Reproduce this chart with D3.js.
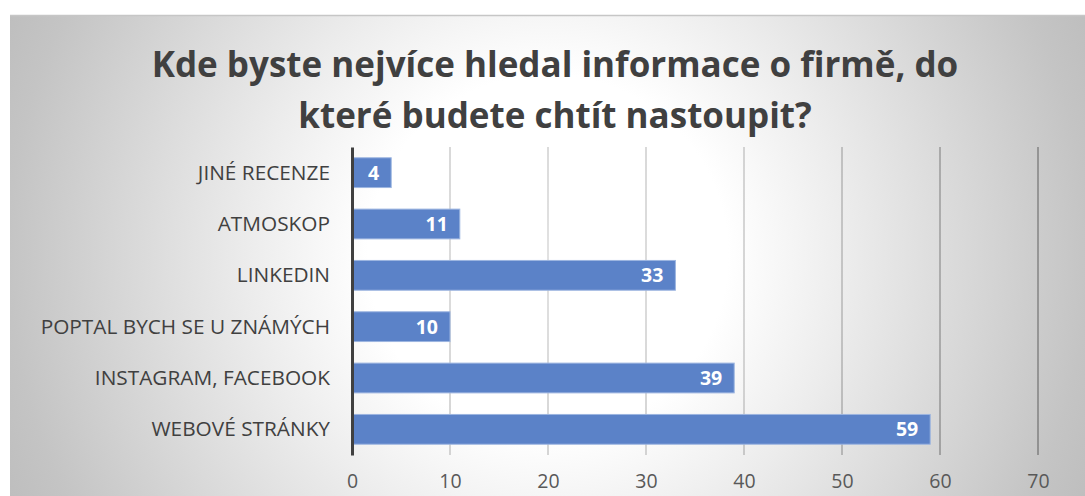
<!DOCTYPE html>
<html>
<head>
<meta charset="utf-8">
<script src="https://cdn.jsdelivr.net/npm/d3@7"></script>
<style>
  body { margin: 0; background: #fff; }
  svg { display: block; }
</style>
</head>
<body>
<svg id="chart"></svg>
<script>
// data
const categories = ['JINÉ RECENZE', 'ATMOSKOP', 'LINKEDIN', 'POPTAL BYCH SE U ZNÁMÝCH', 'INSTAGRAM, FACEBOOK', 'WEBOVÉ STRÁNKY'];
const answers = [4, 11, 33, 10, 39, 59];
const xTicks = [0, 10, 20, 30, 40, 50, 60, 70];
const titleLines = ['Kde byste nejvíce hledal informace o firmě, do', 'které budete chtít nastoupit?'];

const width = 1085, height = 496;
const margin = {top: 147, right: 47, bottom: 41, left: 352};
const fontFam = '"Open Sans", Lato, sans-serif';

const svg = d3.select('#chart')
  .attr('width', width)
  .attr('height', height);

const defs = svg.append('defs');

const bg = defs.append('radialGradient')
  .attr('id', 'bg')
  .attr('gradientUnits', 'userSpaceOnUse')
  .attr('cx', 548).attr('cy', 255).attr('r', 600);
[[0, '#ffffff'], [0.3, '#ffffff'], [0.5, '#ececec'], [0.9, '#c4c4c4'], [1, '#bdbdbd']]
  .forEach(s => bg.append('stop').attr('offset', s[0]).attr('stop-color', s[1]));

const gridGrad = defs.append('radialGradient')
  .attr('id', 'gridGrad')
  .attr('gradientUnits', 'userSpaceOnUse')
  .attr('cx', 548).attr('cy', 255).attr('r', 600);
[[0, '#dadada'], [0.4, '#c8c8c8'], [0.8, '#8a8a8a'], [1, '#7a7a7a']]
  .forEach(s => gridGrad.append('stop').attr('offset', s[0]).attr('stop-color', s[1]));

// chart area
svg.append('rect')
  .attr('x', 10).attr('y', 15)
  .attr('width', width).attr('height', height)
  .attr('fill', 'url(#bg)');
svg.append('line')
  .attr('x1', 10).attr('x2', width)
  .attr('y1', 15.5).attr('y2', 15.5)
  .attr('stroke', '#c6c6c6').attr('stroke-width', 1.5);

const x = d3.scaleLinear()
  .domain([0, 70])
  .range([margin.left, width - margin.right]);

const y = d3.scaleBand()
  .domain(categories)
  .range([margin.top, height - margin.bottom])
  .paddingInner(0.42)
  .paddingOuter(0.21);

// title
svg.append('g')
  .selectAll('text')
  .data(titleLines)
  .join('text')
  .attr('x', 555)
  .attr('y', (d, i) => 77 + i * 51)
  .attr('text-anchor', 'middle')
  .attr('font-family', fontFam)
  .attr('font-weight', 'bold')
  .attr('font-size', 35)
  .attr('fill', '#404040')
  .text(d => d);

// gridlines
svg.append('g')
  .selectAll('line')
  .data(xTicks.slice(1))
  .join('line')
  .attr('x1', d => x(d)).attr('x2', d => x(d))
  .attr('y1', margin.top).attr('y2', height - margin.bottom)
  .attr('stroke', 'url(#gridGrad)')
  .attr('stroke-width', 1.6);

// bars
svg.append('g')
  .selectAll('rect')
  .data(answers)
  .join('rect')
  .attr('x', x(0))
  .attr('y', (d, i) => y(categories[i]))
  .attr('width', d => x(d) - x(0))
  .attr('height', y.bandwidth())
  .attr('fill', '#5b82c8')
  .attr('stroke', '#9cb5e0')
  .attr('stroke-width', 1);

// value labels
svg.append('g')
  .selectAll('text')
  .data(answers)
  .join('text')
  .attr('x', d => x(d) - 12)
  .attr('y', (d, i) => y(categories[i]) + y.bandwidth() / 2)
  .attr('dy', '0.36em')
  .attr('text-anchor', 'end')
  .attr('font-family', fontFam)
  .attr('font-weight', 'bold')
  .attr('font-size', 19.5)
  .attr('fill', '#ffffff')
  .text(d => d);

// y axis
const yAxis = svg.append('g')
  .attr('transform', `translate(${x(0)},0)`)
  .call(d3.axisLeft(y).tickSize(0).tickPadding(22));
yAxis.select('.domain')
  .attr('stroke', '#404040')
  .attr('stroke-width', 3);
yAxis.selectAll('text')
  .attr('font-family', fontFam)
  .attr('font-size', 20.8)
  .attr('dy', '0.34em')
  .attr('fill', '#404040');

// x axis
const xAxis = svg.append('g')
  .attr('transform', `translate(0,${height - margin.bottom})`)
  .call(d3.axisBottom(x).tickValues(xTicks).tickSize(0).tickPadding(19));
xAxis.select('.domain').remove();
xAxis.selectAll('text')
  .attr('font-family', fontFam)
  .attr('font-size', 19.5)
  .attr('fill', '#595959');
</script>
</body>
</html>
